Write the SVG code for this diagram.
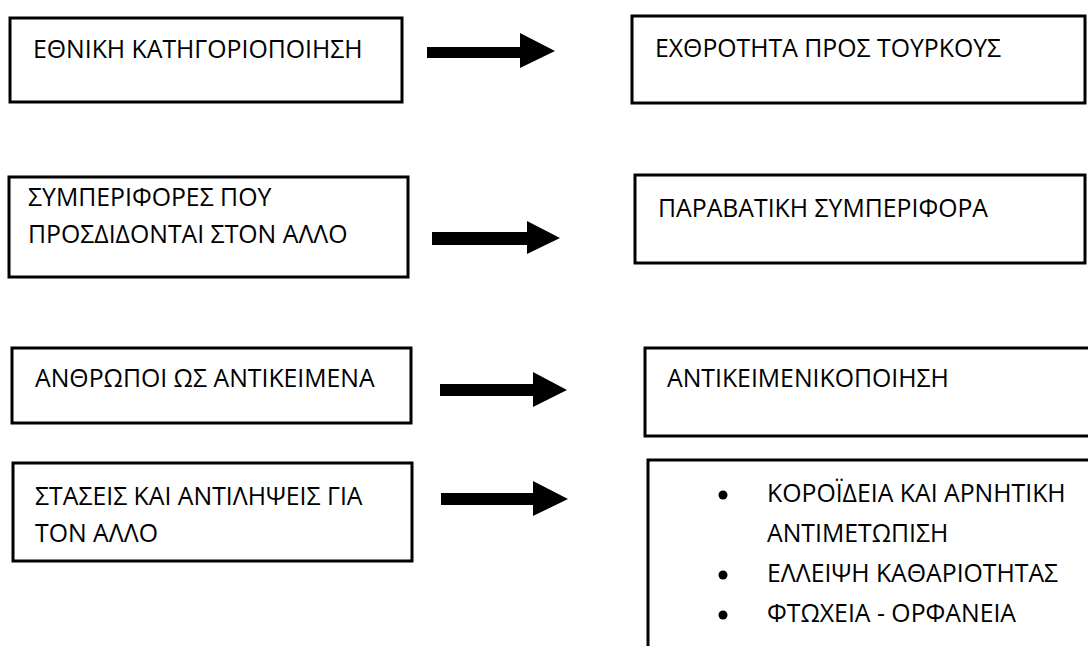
<svg xmlns="http://www.w3.org/2000/svg" width="1088" height="646" viewBox="0 0 1088 646">
<style>
.box{fill:#fff;stroke:#000;stroke-width:3}
.t{font-family:"Open Sans","Liberation Sans",sans-serif;font-size:24.8px;fill:#000}
.arr{fill:#000;stroke:none}
</style>
<rect width="1088" height="646" fill="#fff"/>
<g id="n1"><rect class="box" x="10" y="18" width="392" height="84"/><text class="t" x="33" y="58">ΕΘΝΙΚΗ ΚΑΤΗΓΟΡΙΟΠΟΙΗΣΗ</text></g>
<g id="n2"><rect class="box" x="632" y="16" width="453" height="87"/><text class="t" x="655" y="57">ΕΧΘΡΟΤΗΤΑ ΠΡΟΣ ΤΟΥΡΚΟΥΣ</text></g>
<g id="n3"><rect class="box" x="9" y="177" width="399" height="100"/><text class="t" x="28" y="206">ΣΥΜΠΕΡΙΦΟΡΕΣ ΠΟΥ</text><text class="t" x="28" y="243">ΠΡΟΣΔΙΔΟΝΤΑΙ ΣΤΟΝ ΑΛΛΟ</text></g>
<g id="n4"><rect class="box" x="635" y="175" width="450" height="88"/><text class="t" x="658" y="217">ΠΑΡΑΒΑΤΙΚΗ ΣΥΜΠΕΡΙΦΟΡΑ</text></g>
<g id="n5"><rect class="box" x="12" y="348" width="399" height="75"/><text class="t" x="35" y="387">ΑΝΘΡΩΠΟΙ ΩΣ ΑΝΤΙΚΕΙΜΕΝΑ</text></g>
<g id="n6"><rect class="box" x="645" y="348" width="460" height="88"/><text class="t" x="667" y="387">ΑΝΤΙΚΕΙΜΕΝΙΚΟΠΟΙΗΣΗ</text></g>
<g id="n7"><rect class="box" x="13" y="463" width="399" height="98"/><text class="t" x="35" y="505">ΣΤΑΣΕΙΣ ΚΑΙ ΑΝΤΙΛΗΨΕΙΣ ΓΙΑ</text><text class="t" x="35" y="542">ΤΟΝ ΑΛΛΟ</text></g>
<g id="n8"><rect class="box" x="648" y="460" width="460" height="200"/>
<circle cx="723" cy="495" r="4.5"/><circle cx="723" cy="575" r="4.5"/><circle cx="723" cy="615" r="4.5"/>
<text class="t" x="767" y="502">ΚΟΡΟΪΔΕΙΑ ΚΑΙ ΑΡΝΗΤΙΚΗ</text><text class="t" x="767" y="542">ΑΝΤΙΜΕΤΩΠΙΣΗ</text><text class="t" x="767" y="582">ΕΛΛΕΙΨΗ ΚΑΘΑΡΙΟΤΗΤΑΣ</text><text class="t" x="767" y="622">ΦΤΩΧΕΙΑ - ΟΡΦΑΝΕΙΑ</text></g>
<g id="connectors">
<polygon class="arr" points="427,47 520,47 520,33 555,51 520,68 520,58 427,58"/>
<polygon class="arr" points="432,232 527,232 527,221 560,238 527,254 527,245 432,245"/>
<polygon class="arr" points="440,384 533,384 533,372 567,390 533,407 533,396 440,396"/>
<polygon class="arr" points="441,493 533,493 533,481 568,499 533,516 533,505 441,505"/>
</g>
</svg>
